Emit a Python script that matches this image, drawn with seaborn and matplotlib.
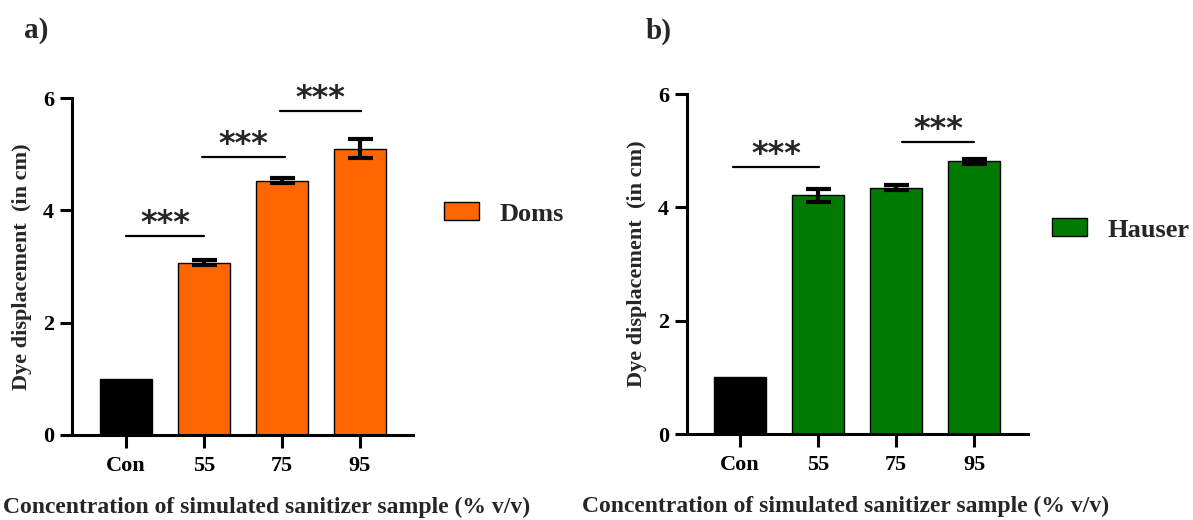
import matplotlib

matplotlib.use("Agg")
import matplotlib.pyplot as plt
from matplotlib.patches import Patch
import seaborn as sns

categories = ["Con", "55", "75", "95"]

doms_means = [1.0, 3.07, 4.53, 5.10]
doms_errors = [0.0, 0.04, 0.05, 0.17]
doms_sig_start = [0.0, 0.97, 1.97]
doms_sig_end = [1.0, 2.04, 3.01]
doms_sig_height = [3.55, 4.95, 5.77]

hauser_means = [1.0, 4.21, 4.35, 4.81]
hauser_errors = [0.0, 0.12, 0.05, 0.05]
hauser_sig_start = [-0.09, 2.08]
hauser_sig_end = [1.01, 3.0]
hauser_sig_height = [4.72, 5.15]

y_ticks = [0, 2, 4, 6]
x_label = "Concentration of simulated sanitizer sample (% v/v)"
y_label = "Dye displacement  (in cm)"

SERIF = ["Liberation Serif", "DejaVu Serif"]


def draw_panel(fig, rect, means, errors, colour, name, sig_start, sig_end, sig_height,
               xlim, legend_anchor, panel_label, label_pos, xlabel_x):
    ax = fig.add_axes(rect)
    palette = ["black"] + [colour] * (len(categories) - 1)
    sns.barplot(
        x=categories,
        y=means,
        hue=categories,
        palette=palette,
        saturation=1,
        edgecolor="black",
        linewidth=1.0,
        width=0.67,
        legend=False,
        ax=ax,
    )
    ax.errorbar(
        x=list(range(1, len(categories))),
        y=means[1:],
        yerr=errors[1:],
        fmt="none",
        ecolor="black",
        elinewidth=3,
        capsize=9,
        capthick=3,
        zorder=5,
    )
    for x0, x1, h in zip(sig_start, sig_end, sig_height):
        ax.plot([x0, x1], [h, h], color="black", linewidth=1.6, clip_on=False)
        ax.text((x0 + x1) / 2, h + 0.07, "***", ha="center", va="baseline",
                fontsize=23, fontweight="bold", family="DejaVu Sans")

    ax.set_ylim(0, 6)
    ax.set_xlim(*xlim)
    ax.set_yticks(y_ticks)
    ax.set_xlabel(x_label, fontsize=17, fontweight="bold")
    ax.set_ylabel(y_label, fontsize=16, fontweight="bold")
    ax.xaxis.set_label_coords(xlabel_x, -0.183)
    ax.yaxis.set_label_coords(-0.116, 0.5)
    ax.tick_params(axis="both", width=2.2, length=9, labelsize=16, pad=4)
    ax.tick_params(axis="x", pad=6)
    for lab in ax.get_xticklabels() + ax.get_yticklabels():
        lab.set_fontweight("bold")
    sns.despine(ax=ax)
    ax.spines["left"].set_linewidth(2.2)
    ax.spines["bottom"].set_linewidth(2.2)

    handles = [Patch(facecolor=colour, edgecolor="black", linewidth=1.0, label=name)]
    ax.legend(
        handles=handles,
        loc="center left",
        bbox_to_anchor=legend_anchor,
        frameon=False,
        prop={"family": SERIF, "weight": "bold", "size": 19},
        handlelength=1.35,
        handleheight=0.68,
        handletextpad=0.75,
        borderaxespad=0,
        borderpad=0,
    )
    fig.text(label_pos[0], label_pos[1], panel_label, fontsize=21, fontweight="bold",
             ha="left", va="center")
    return ax


def main() -> None:
    sns.set_style("ticks")
    plt.rcParams["font.family"] = SERIF
    plt.rcParams["axes.edgecolor"] = "black"
    plt.rcParams["xtick.color"] = "black"
    plt.rcParams["ytick.color"] = "black"

    fig = plt.figure(figsize=(11.93, 5.2), dpi=100)

    draw_panel(
        fig,
        [72 / 1193, 1 - 435 / 520, 341 / 1193, 337 / 520],
        doms_means, doms_errors, "#ff6600", "Doms",
        doms_sig_start, doms_sig_end, doms_sig_height,
        (-0.69, 3.68), (1.09, 0.656), "a)", (24 / 1193, 1 - 31 / 520), 0.572,
    )
    draw_panel(
        fig,
        [687 / 1193, 1 - 434 / 520, 341 / 1193, 340 / 520],
        hauser_means, hauser_errors, "#007a00", "Hauser",
        hauser_sig_start, hauser_sig_end, hauser_sig_height,
        (-0.68, 3.69), (1.07, 0.60), "b)", (646 / 1193, 1 - 31 / 520), 0.465,
    )

    fig.savefig("out.png", dpi=100)
    plt.close(fig)


if __name__ == "__main__":
    main()
